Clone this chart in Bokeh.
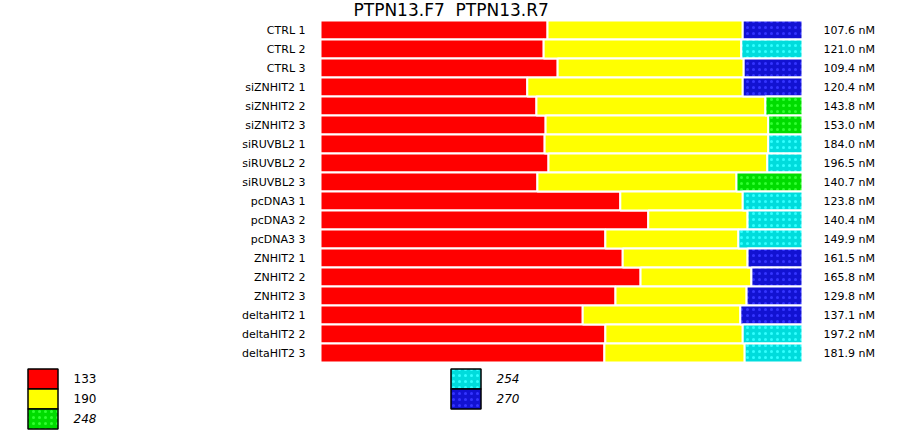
import numpy as np
from bokeh.plotting import figure
from bokeh.models import Range1d, ColumnDataSource
from bokeh.core.properties import value
from bokeh.embed import file_html
from bokeh.resources import INLINE

# ---------------- data ----------------
samples = ["CTRL 1", "CTRL 2", "CTRL 3", "siZNHIT2 1", "siZNHIT2 2", "siZNHIT2 3",
           "siRUVBL2 1", "siRUVBL2 2", "siRUVBL2 3", "pcDNA3 1", "pcDNA3 2", "pcDNA3 3",
           "ZNHIT2 1", "ZNHIT2 2", "ZNHIT2 3", "deltaHIT2 1", "deltaHIT2 2", "deltaHIT2 3"]
pct_133 = [47.1, 46.3, 49.2, 42.9, 44.8, 46.7, 46.5, 47.3, 45.0,
           62.2, 68.0, 59.1, 62.7, 66.4, 61.2, 54.4, 59.1, 58.9]
pct_190 = [40.5, 41.0, 38.6, 44.7, 47.5, 46.2, 46.4, 45.4, 41.3,
           25.4, 20.6, 27.6, 25.9, 23.0, 27.2, 32.7, 28.5, 29.1]
pct_third = [12.4, 12.7, 12.2, 12.4, 7.7, 7.1, 7.1, 7.3, 13.7,
             12.4, 11.4, 13.3, 11.4, 10.6, 11.6, 12.9, 12.4, 12.0]
third_peak = ["270", "254", "270", "270", "248", "248", "254", "254", "248",
              "254", "254", "254", "270", "270", "270", "270", "254", "254"]
conc_nM = [107.6, 121.0, 109.4, 120.4, 143.8, 153.0, 184.0, 196.5, 140.7,
           123.8, 140.4, 149.9, 161.5, 165.8, 129.8, 137.1, 197.2, 181.9]
title_text = "PTPN13.F7  PTPN13.R7"

legend_labels = ["133", "190", "248", "254", "270"]
legend_italic = [False, False, True, True, True]

# ---------------- styles ----------------
fill_of = {"133": "#ff0000", "190": "#ffff00", "248": "#00dc00", "254": "#00dcdc", "270": "#1212d2"}
hatch_of = {"133": None, "190": None, "248": "#30ff30", "254": "#30ffff", "270": "#3434ff"}
FONT = "DejaVu Sans"

# ---------------- layout (page pixels) ----------------
W, H = 898, 430
PAGE = 0
BAR_X0, BAR_W = 320, 482          # 0% and width of 100%
ROW_Y0, ROW_PITCH = 20, 19
ppu = BAR_W / 100.0

x0 = (PAGE - BAR_X0) / ppu
x1 = (PAGE + W - BAR_X0) / ppu
y_top = (PAGE - ROW_Y0) / ROW_PITCH - 0.5
y_bot = (PAGE + H - ROW_Y0) / ROW_PITCH - 0.5

p = figure(width=W, height=H, x_range=Range1d(x0, x1), y_range=Range1d(y_bot, y_top),
           min_border=0, toolbar_location=None, output_backend="svg",
           x_axis_location=None, y_axis_location=None)
p.extra_x_ranges = {"px": Range1d(PAGE, PAGE + W)}
p.extra_y_ranges = {"py": Range1d(PAGE + H, PAGE)}
p.grid.visible = False
p.outline_line_color = None
p.background_fill_color = "white"
p.border_fill_color = "white"

n = len(samples)
rows = np.arange(n)
a = np.array(pct_133)
b = np.array(pct_190)
c = np.array(pct_third)

src = ColumnDataSource(dict(
    row=rows,
    l1=np.zeros(n), r1=a,
    l2=a, r2=a + b,
    l3=a + b, r3=a + b + c,
    f3=[fill_of[k] for k in third_peak],
    h3=[hatch_of[k] for k in third_peak],
))

p.hbar(y="row", left="l1", right="r1", height=1, source=src,
       fill_color=fill_of["133"], line_color="white", line_width=2)
p.hbar(y="row", left="l2", right="r2", height=1, source=src,
       fill_color=fill_of["190"], line_color="white", line_width=2)
p.hbar(y="row", left="l3", right="r3", height=1, source=src,
       fill_color="f3", hatch_color="h3", hatch_pattern="dot", hatch_scale=6, hatch_weight=4,
       line_color="white", line_width=2)

# row labels (left) and concentrations (right)
lab_src = ColumnDataSource(dict(row=rows, name=samples,
                                conc=[f"{v:.1f} nM" for v in conc_nM],
                                xl=[305] * n, xr=[823] * n))
p.text(x="xl", y="row", text="name", source=lab_src, x_range_name="px",
       text_align="right", text_baseline="middle", text_font=value(FONT),
       text_font_size="11px", text_color="black")
p.text(x="xr", y="row", text="conc", source=lab_src, x_range_name="px",
       text_align="left", text_baseline="middle", text_font=value(FONT),
       text_font_size="11px", text_color="black")

# title
p.text(x=[353], y=[9.5], text=[title_text.replace(" ", "\u00a0")], x_range_name="px", y_range_name="py",
       text_align="left", text_baseline="middle", text_font=value(FONT),
       text_font_size="17px", text_color="black")

# legend
LEG_X = [27, 450]
LEG_Y0, LEG_PITCH, BOX_W = 368, 20, 30
per_col = 3
lx, ly, lf, lh, lstyle = [], [], [], [], []
for i, lab in enumerate(legend_labels):
    col, r = divmod(i, per_col)
    lx.append(LEG_X[col]); ly.append(LEG_Y0 + r * LEG_PITCH)
    lf.append(fill_of[lab]); lh.append(hatch_of[lab] or fill_of[lab])
    lstyle.append("italic" if legend_italic[i] else "normal")
lx = np.array(lx, float); ly = np.array(ly, float)
leg = ColumnDataSource(dict(left=lx + 0.5, right=lx + BOX_W + 0.5, top=ly + 0.5, bottom=ly + LEG_PITCH + 0.5,
                            fill=lf, hatch=lh, tx=lx + 46, ty=ly + LEG_PITCH / 2,
                            label=legend_labels, style=lstyle,
                            pat=["dot" if hatch_of[k] else " " for k in legend_labels]))
p.quad(left="left", right="right", top="top", bottom="bottom", source=leg,
       x_range_name="px", y_range_name="py",
       fill_color="fill", hatch_color="hatch", hatch_pattern="pat", hatch_scale=6, hatch_weight=4,
       line_color="black", line_width=1.5)
p.text(x="tx", y="ty", text="label", source=leg, x_range_name="px", y_range_name="py",
       text_align="left", text_baseline="middle", text_font=value(FONT),
       text_font_size="12px", text_font_style="style", text_color="black")

open("out.html", "w").write(file_html(p, INLINE))
